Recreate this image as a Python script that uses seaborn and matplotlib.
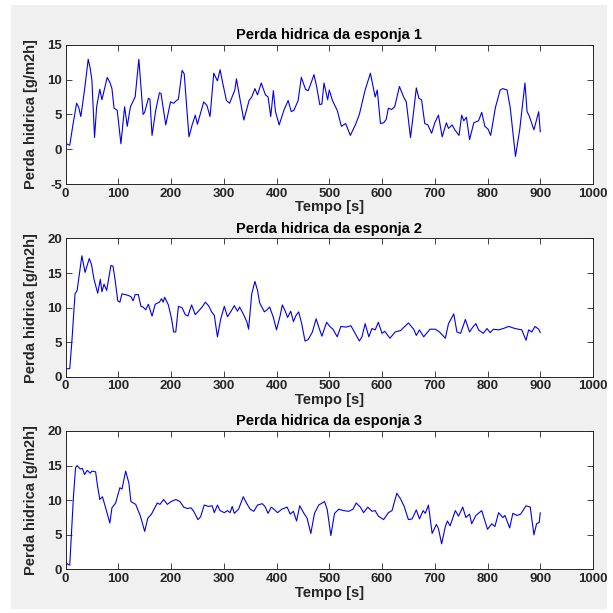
import matplotlib
matplotlib.use("Agg")
import matplotlib.pyplot as plt
from matplotlib.patches import Rectangle
import pandas as pd
import seaborn as sns

# values (time in s, water loss in g/m2h)
tempo_1 = [0, 4, 8, 14, 21, 25, 29, 36, 43, 47, 50, 55, 59, 65, 69, 73, 79, 84, 88, 92,
           98, 105, 112, 117, 123, 132, 139, 143, 147, 150, 157, 160, 164, 171, 178, 181, 190, 199, 205, 209,
           214, 221, 225, 234, 240, 246, 250, 262, 268, 274, 281, 288, 293, 298, 305, 311, 321, 324, 330, 338,
           348, 353, 359, 364, 371, 379, 384, 389, 394, 398, 405, 414, 422, 428, 433, 441, 447, 455, 460, 466,
           471, 476, 482, 486, 490, 497, 500, 506, 515, 523, 531, 540, 550, 557, 568, 578, 587, 591, 597, 603,
           608, 612, 618, 624, 633, 641, 646, 654, 661, 665, 670, 675, 681, 687, 694, 700, 707, 714, 722, 726,
           733, 738, 746, 751, 755, 760, 766, 774, 783, 789, 795, 801, 806, 815, 824, 829, 837, 843, 853, 861,
           866, 871, 875, 879, 888, 897, 900]
perda_1 = [1.0, 0.7, 0.6, 3.5, 6.6, 6.0, 4.7, 8.5, 12.9, 11.5, 9.9, 1.7, 6.1, 8.6, 7.1, 8.4, 10.3, 9.6, 8.7, 5.9,
           5.6, 0.8, 6.1, 3.3, 6.1, 7.5, 12.9, 9.0, 5.0, 5.3, 7.3, 7.2, 2.0, 5.6, 8.1, 8.0, 3.5, 6.8, 6.6, 6.9,
           7.2, 11.3, 10.8, 1.8, 3.5, 4.9, 3.6, 6.8, 6.3, 4.7, 10.9, 9.8, 11.4, 9.5, 7.0, 6.6, 8.5, 10.1, 7.5, 4.2,
           7.0, 7.5, 8.7, 7.8, 9.5, 7.8, 7.5, 4.7, 8.4, 5.4, 3.5, 5.6, 7.0, 5.4, 5.6, 7.0, 10.3, 8.6, 8.4, 9.6,
           10.7, 9.0, 6.4, 6.5, 9.5, 7.1, 8.5, 7.0, 5.6, 3.3, 3.7, 2.0, 3.6, 5.0, 8.5, 10.9, 7.5, 8.5, 3.7, 3.8,
           4.3, 5.9, 5.7, 6.1, 9.0, 7.5, 6.8, 1.7, 6.1, 8.8, 7.3, 7.1, 3.7, 3.5, 2.3, 3.8, 4.9, 1.8, 3.8, 3.0,
           3.5, 2.8, 2.0, 4.9, 4.1, 4.6, 1.4, 3.8, 4.1, 5.3, 3.3, 2.9, 2.0, 6.0, 8.5, 8.7, 8.5, 6.0, -1.0, 2.8,
           6.1, 9.5, 5.4, 4.8, 2.8, 5.4, 2.5]

tempo_2 = [0, 8, 12, 18, 22, 31, 37, 45, 49, 54, 61, 66, 69, 73, 78, 83, 86, 90, 94, 99,
           103, 107, 118, 124, 128, 132, 138, 143, 147, 152, 157, 164, 170, 178, 182, 185, 188, 195, 201, 205,
           209, 214, 221, 227, 232, 239, 246, 252, 259, 265, 271, 277, 282, 288, 294, 301, 307, 313, 320, 326,
           330, 337, 344, 347, 353, 359, 364, 368, 377, 382, 387, 394, 400, 407, 411, 416, 421, 427, 432, 437,
           442, 448, 454, 460, 468, 475, 481, 486, 495, 501, 507, 515, 522, 532, 541, 549, 557, 562, 568, 575,
           581, 587, 593, 600, 605, 615, 625, 635, 650, 660, 665, 671, 679, 691, 701, 709, 720, 726, 736, 742,
           749, 758, 766, 772, 778, 783, 792, 799, 805, 811, 821, 830, 840, 852, 865, 873, 878, 884, 890, 897,
           900]
perda_2 = [1.2, 1.2, 5.1, 12.0, 12.5, 17.5, 15.1, 17.1, 16.3, 14.1, 12.1, 14.1, 12.3, 13.4, 12.5, 14.8, 16.1, 16.0, 14.0, 11.0,
           10.8, 12.0, 11.8, 11.6, 11.0, 11.9, 11.9, 10.2, 10.1, 9.7, 10.5, 8.8, 10.5, 10.8, 11.3, 10.8, 11.5, 10.4, 8.4, 6.5,
           6.5, 10.2, 10.0, 9.0, 8.8, 10.4, 9.0, 9.5, 10.1, 10.8, 10.3, 9.4, 8.9, 5.8, 8.3, 10.2, 8.7, 9.4, 10.3, 9.5,
           10.1, 9.1, 7.9, 6.9, 12.0, 13.8, 12.5, 10.7, 9.4, 9.7, 10.1, 8.6, 6.8, 8.9, 10.4, 9.6, 8.6, 9.5, 8.0, 8.9,
           9.4, 7.6, 5.2, 5.4, 6.5, 8.4, 7.0, 5.9, 7.9, 7.3, 6.9, 5.8, 7.3, 7.2, 7.4, 6.3, 5.2, 5.8, 7.7, 5.8,
           7.0, 6.8, 7.9, 6.3, 6.6, 5.6, 6.5, 6.7, 7.8, 6.9, 6.0, 6.8, 5.8, 6.9, 6.9, 6.5, 5.6, 7.7, 9.1, 6.5,
           6.3, 8.3, 6.5, 7.2, 7.7, 6.8, 6.3, 7.0, 6.4, 6.9, 6.8, 7.0, 7.3, 7.0, 6.8, 5.3, 6.8, 6.5, 7.3, 6.9,
           6.4]

tempo_3 = [0, 5, 8, 11, 15, 19, 22, 28, 32, 36, 41, 47, 50, 57, 61, 65, 70, 76, 84, 88,
           95, 103, 107, 114, 120, 124, 133, 142, 150, 156, 163, 174, 179, 186, 193, 200, 209, 217, 224, 231,
           238, 243, 251, 256, 263, 271, 278, 282, 288, 293, 301, 307, 312, 316, 320, 328, 337, 343, 350, 357,
           364, 373, 378, 384, 390, 395, 402, 410, 420, 426, 432, 438, 444, 452, 458, 465, 472, 480, 491, 496,
           503, 510, 518, 527, 537, 545, 551, 559, 565, 573, 581, 587, 593, 603, 612, 619, 628, 635, 642, 650,
           657, 665, 671, 678, 682, 688, 695, 703, 707, 713, 720, 724, 729, 739, 745, 753, 759, 766, 770, 778,
           789, 800, 808, 814, 821, 829, 833, 842, 848, 856, 863, 873, 881, 888, 893, 898, 900]
perda_3 = [1.1, 0.7, 0.65, 5.0, 10.5, 14.7, 15.0, 14.5, 14.6, 13.7, 14.3, 13.9, 14.2, 14.1, 11.9, 10.1, 10.5, 8.9, 6.7, 8.9,
           9.6, 11.8, 11.6, 14.2, 12.5, 9.8, 9.4, 7.7, 5.5, 7.4, 8.0, 9.6, 9.4, 10.1, 9.4, 9.8, 10.1, 9.8, 9.0, 8.8,
           8.9, 8.4, 7.2, 7.6, 9.3, 9.1, 9.2, 8.2, 9.3, 8.5, 8.2, 8.5, 8.2, 9.1, 8.1, 8.7, 10.5, 9.6, 8.7, 8.4,
           9.3, 9.5, 9.1, 8.1, 9.0, 8.7, 8.2, 8.7, 9.0, 8.0, 8.4, 7.0, 9.2, 8.1, 7.4, 5.2, 8.1, 9.3, 9.8, 8.7,
           4.9, 8.1, 8.7, 8.5, 8.4, 8.7, 9.6, 9.0, 8.2, 9.0, 8.4, 8.5, 7.7, 7.2, 8.2, 8.5, 11.0, 10.2, 9.1, 7.2,
           7.3, 8.6, 7.3, 8.5, 8.1, 9.3, 5.2, 6.5, 5.9, 3.7, 6.2, 7.0, 6.3, 8.5, 7.7, 9.0, 7.5, 8.0, 6.6, 7.8,
           8.5, 5.8, 6.6, 6.2, 8.2, 7.5, 7.8, 6.0, 8.1, 7.8, 8.0, 9.2, 9.0, 5.0, 6.6, 6.8, 8.2]

titulos = ["Perda hidrica da esponja 1", "Perda hidrica da esponja 2", "Perda hidrica da esponja 3"]
yticks_1 = [-5, 0, 5, 10, 15]
yticks_23 = [0, 5, 10, 15, 20]
xticks = list(range(0, 1001, 100))

# matlab-like look
sns.set_style("ticks")
plt.rcParams["font.family"] = ["Liberation Sans", "DejaVu Sans"]
plt.rcParams["font.weight"] = "bold"
plt.rcParams["axes.titleweight"] = "bold"
plt.rcParams["axes.labelweight"] = "bold"
plt.rcParams["axes.unicode_minus"] = False

INK = "#262626"


def draw_panel(ax, tempo, perda, title, yticks):
    df = pd.DataFrame({"tempo": tempo, "perda": perda})
    sns.lineplot(x="tempo", y="perda", data=df, ax=ax, color="#0000ee",
                 linewidth=0.8, estimator=None)

    ax.set_xlim(0, 1000)
    ax.set_ylim(yticks[0], yticks[-1])
    ax.set_xticks(xticks)
    ax.set_yticks(yticks)
    ax.tick_params(direction="in", top=True, right=True, length=4, width=0.6,
                   labelsize=9.5, pad=2.5, colors=INK)
    ax.set_title(title, fontsize=10.5, pad=4, color="black")
    ax.set_xlabel("Tempo [s]", fontsize=10.5, labelpad=0.5, color=INK)
    ax.set_ylabel("Perda hidrica [g/m2h]", fontsize=10.5, labelpad=7, color=INK)
    ax.set_facecolor("white")
    for side in ax.spines.values():
        side.set_visible(True)
        side.set_color(INK)
        side.set_linewidth(0.7)


def generate_plot() -> None:
    fig = plt.figure(figsize=(6.13, 6.13), dpi=100)
    fig.patch.set_facecolor("white")
    fig.patches.append(Rectangle((11 / 613, 4 / 613), 596 / 613, 604 / 613,
                                 transform=fig.transFigure, facecolor="#f0f0f0",
                                 edgecolor="none", zorder=-10))

    left, width = 0.1069, 0.8605
    ax1 = fig.add_axes([left, 0.6993, width, 0.228])
    ax2 = fig.add_axes([left, 0.3850, width, 0.226])
    ax3 = fig.add_axes([left, 0.0710, width, 0.226])

    draw_panel(ax1, tempo_1, perda_1, titulos[0], yticks_1)
    draw_panel(ax2, tempo_2, perda_2, titulos[1], yticks_23)
    draw_panel(ax3, tempo_3, perda_3, titulos[2], yticks_23)

    fig.savefig("out.png", dpi=100)
    plt.close(fig)


if __name__ == "__main__":
    generate_plot()
